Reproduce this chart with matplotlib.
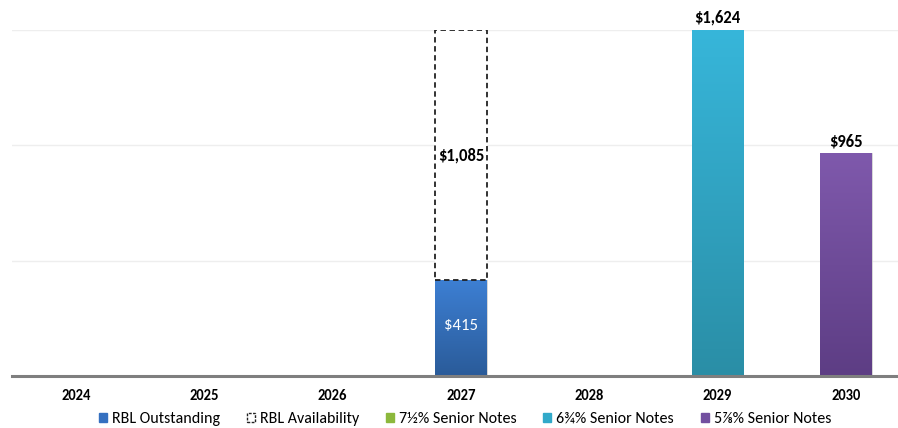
import matplotlib.pyplot as plt
import matplotlib.patches as mpatches
from matplotlib.colors import LinearSegmentedColormap
import numpy as np

# ==========================
# data (USD millions)
# ==========================
years = ["2024", "2025", "2026", "2027", "2028", "2029", "2030"]
rbl_outstanding = [0, 0, 0, 415, 0, 0, 0]
rbl_availability = [0, 0, 0, 1085, 0, 0, 0]
notes_7_5 = [0, 0, 0, 0, 0, 0, 0]
notes_6_75 = [0, 0, 0, 0, 0, 1624, 0]
notes_5_875 = [0, 0, 0, 0, 0, 0, 965]
y_max = 1500

# gradient colours: (top, bottom)
GRAD = {
    "rbl": ("#3d7fd3", "#2a5b99"),
    "n675": ("#37b6da", "#2a8ea6"),
    "n5875": ("#7f59ac", "#5d3d84"),
}
LEGEND_COLORS = {
    "rbl": "#3570c0",
    "n75": "#8cb83c",
    "n675": "#31a9c9",
    "n5875": "#7350a0",
}

plt.rcParams["font.family"] = ["Carlito", "Noto Sans", "DejaVu Sans"]

fig = plt.figure(figsize=(8.98, 4.28), dpi=100)
ax = fig.add_axes([12 / 898, 1 - 376 / 428, 1 - 12 / 898, (376 - 30) / 428])

x = np.arange(len(years))
width = 0.4


def grad_bar(xi, bottom, h, key):
    top_c, bot_c = GRAD[key]
    bar = ax.bar(xi, h, width, bottom=bottom, color="none", edgecolor="#d0d0d0",
                 linewidth=0.6, zorder=3)[0]
    cmap = LinearSegmentedColormap.from_list(key, [bot_c, top_c])
    grad = np.linspace(0, 1, 256).reshape(-1, 1)
    top = min(bottom + h, y_max)
    ax.imshow(grad, cmap=cmap, origin="lower", aspect="auto",
              extent=[xi - width / 2, xi + width / 2, bottom, top], zorder=3)
    return bar


def top_label(xi, val):
    ax.annotate(f"${val:,}", (xi, min(val, y_max)), xytext=(0, 3), textcoords="offset points",
                ha="center", va="bottom", fontsize=12, fontweight="bold", annotation_clip=False)


for i in x:
    if rbl_outstanding[i]:
        grad_bar(i, 0, rbl_outstanding[i], "rbl")
        ax.text(i, rbl_outstanding[i] / 2 + 10, f"${rbl_outstanding[i]:,}", color="white",
                ha="center", va="center", fontsize=12, zorder=4)
    if rbl_availability[i]:
        ax.bar(i, rbl_availability[i], width, bottom=rbl_outstanding[i], color="white",
               edgecolor="#222222", linestyle=(0, (3, 2)), linewidth=1.3, zorder=3)
        ax.text(i, rbl_outstanding[i] + rbl_availability[i] / 2, f"${rbl_availability[i]:,}",
                color="black", ha="center", va="center", fontsize=12, fontweight="bold", zorder=4)
    for series, key in ((notes_6_75, "n675"), (notes_5_875, "n5875")):
        if series[i]:
            grad_bar(i, 0, series[i], key)
            top_label(i, series[i])

ax.set_xlim(-0.5, -0.5 + (898 - 12) / 128.3)
ax.set_ylim(0, y_max)

ax.set_yticks([500, 1000, 1500])
ax.yaxis.grid(True, color="#eeeeee", linewidth=1)
ax.set_axisbelow(True)
ax.tick_params(axis="y", left=False, labelleft=False)
ax.tick_params(axis="x", bottom=False, pad=6)
ax.set_xticks(x)
ax.set_xticklabels(years, fontsize=10.5, fontweight="bold")

for s in ("top", "right", "left"):
    ax.spines[s].set_visible(False)
ax.spines["bottom"].set_color("#7f7f7f")
ax.spines["bottom"].set_linewidth(2.2)
ax.spines["bottom"].set_zorder(5)

handles = [
    mpatches.Patch(color=LEGEND_COLORS["rbl"], label="RBL Outstanding"),
    mpatches.Patch(facecolor="white", edgecolor="#222222", linestyle=(0, (2, 1)),
                   linewidth=1.0, label="RBL Availability"),
    mpatches.Patch(color=LEGEND_COLORS["n75"], label="7½% Senior Notes"),
    mpatches.Patch(color=LEGEND_COLORS["n675"], label="6¾% Senior Notes"),
    mpatches.Patch(color=LEGEND_COLORS["n5875"], label="5⅞% Senior Notes"),
]
fig.legend(handles=handles, loc="center", bbox_to_anchor=(465 / 898, 1 - 419 / 428),
           ncol=5, frameon=False, fontsize=11.5, handlelength=0.5, handleheight=0.5,
           handletextpad=0.3, columnspacing=1.7, borderpad=0)

plt.savefig("out.png", dpi=100)
plt.close()
